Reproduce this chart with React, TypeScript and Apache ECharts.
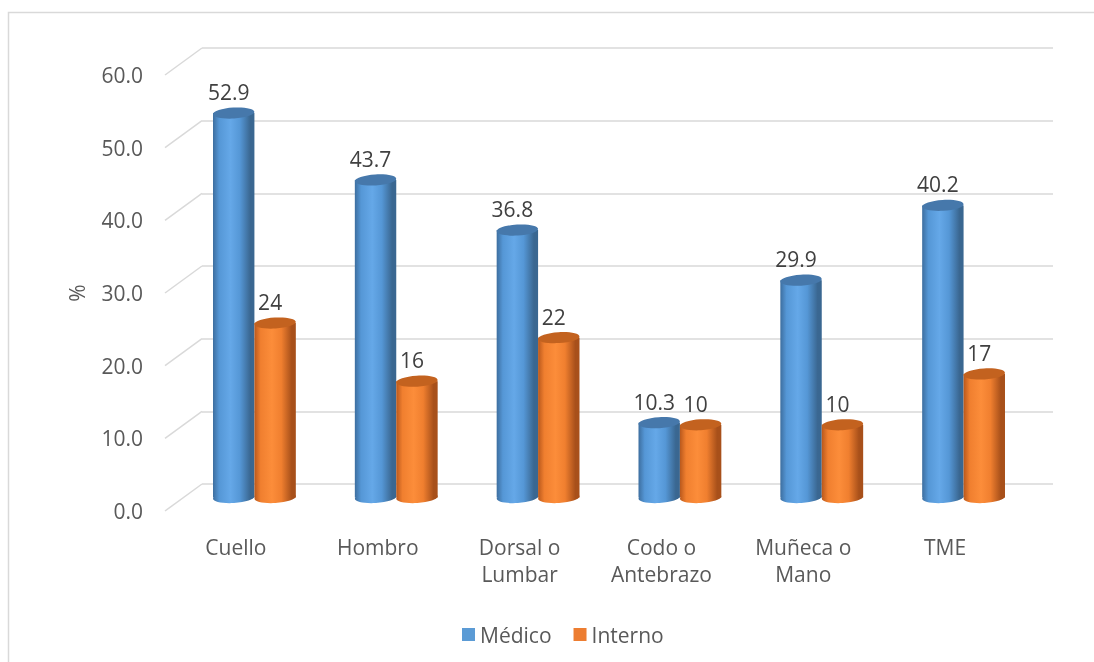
import React, { useEffect, useRef } from "react";
import * as echarts from "echarts";

// Body regions and the two groups compared for each
const categories = ["Cuello", "Hombro", "Dorsal o\nLumbar", "Codo o\nAntebrazo", "Muñeca o\nMano", "TME"];
const medico = [52.9, 43.7, 36.8, 10.3, 29.9, 40.2];
const interno = [24, 16, 22, 10, 10, 17];
const yTicks = [0, 10, 20, 30, 40, 50, 60];
const seriesNames = ["Médico", "Interno"];

// Pseudo-3D layout: back wall, middle (cylinders) and front (labels) planes
const DEPTH_DX = 37;
const DEPTH_DY = 27;
const PLOT_W = 851;
const PLOT_H = 436;
const BACK_LEFT = 202;
const BACK_TOP = 48;

const FONT = '"Open Sans", "Liberation Sans", sans-serif';
const TEXT = "#595959";
const FS = 21;

type Palette = { edge: string; mid: string; light: string; dark: string; top: string };
const bluePal: Palette = { edge: "#3d6e9f", mid: "#5597d6", light: "#65a8e8", dark: "#3a6791", top: "#4678ab" };
const orangePal: Palette = { edge: "#b9581c", mid: "#f07f2f", light: "#fc8d3a", dark: "#a8501a", top: "#c3621f" };

function cylinder(side: number, pal: Palette) {
  return (params: any, api: any) => {
    const idx = api.value(0);
    const v = api.value(1);
    const top = api.coord([idx, v]);
    const base = api.coord([idx, 0]);
    const band = api.size([1, 0])[0];
    const w = band * 0.292;
    const cx = top[0] + (side * w) / 2;
    const rx = w / 2;
    const ry = 5.5;
    const tilt = 0.06;
    const body = new echarts.graphic.LinearGradient(0, 0, 1, 0, [
      { offset: 0, color: pal.edge },
      { offset: 0.15, color: pal.mid },
      { offset: 0.42, color: pal.light },
      { offset: 0.65, color: pal.mid },
      { offset: 0.9, color: pal.dark },
      { offset: 1, color: pal.dark },
    ]);
    return {
      type: "group",
      children: [
        {
          type: "ellipse",
          x: cx,
          y: base[1],
          rotation: tilt,
          shape: { cx: 0, cy: 0, rx, ry },
          style: { fill: body },
        },
        {
          type: "rect",
          shape: { x: cx - rx, y: top[1], width: w, height: base[1] - top[1] },
          style: { fill: body },
        },
        {
          type: "ellipse",
          x: cx,
          y: top[1],
          rotation: tilt,
          shape: { cx: 0, cy: 0, rx, ry },
          style: { fill: pal.top },
        },
        {
          type: "text",
          x: cx - 5,
          y: top[1] - 21,
          style: {
            text: String(v),
            fill: "#404040",
            fontSize: FS,
            fontFamily: FONT,
            align: "center",
            verticalAlign: "middle",
          },
        },
      ],
    };
  };
}

export default function App() {
  const ref = useRef<HTMLDivElement>(null);

  useEffect(() => {
    if (!ref.current) return;
    const chart = echarts.init(ref.current, undefined, { renderer: "svg" });

    const valueAxis = (gridIndex: number, extra: any = {}) => ({
      type: "value",
      gridIndex,
      min: 0,
      max: 60,
      interval: 10,
      axisLine: { show: false },
      axisTick: { show: false },
      axisLabel: { show: false },
      splitLine: { show: false },
      ...extra,
    });
    const catAxis = (gridIndex: number, extra: any = {}) => ({
      type: "category",
      gridIndex,
      data: categories,
      show: false,
      ...extra,
    });

    chart.setOption({
      animation: false,
      color: ["#5B9BD5", "#ED7D31"],
      textStyle: { fontFamily: FONT },
      graphic: [
        {
          type: "rect",
          shape: { x: 8.5, y: 12.5, width: 1100, height: 700 },
          style: { fill: "none", stroke: "#d9d9d9", lineWidth: 1.5 },
          silent: true,
        },
      ],
      legend: {
        data: seriesNames,
        left: 457,
        top: 619,
        icon: "rect",
        itemWidth: 13,
        itemHeight: 13,
        itemGap: 22,
        textStyle: { fontSize: FS, color: TEXT, fontFamily: FONT },
      },
      grid: [
        { left: BACK_LEFT, top: BACK_TOP, width: PLOT_W, height: PLOT_H },
        { left: BACK_LEFT - DEPTH_DX / 2, top: BACK_TOP + DEPTH_DY / 2, width: PLOT_W, height: PLOT_H },
        { left: BACK_LEFT - DEPTH_DX, top: BACK_TOP + DEPTH_DY, width: PLOT_W, height: PLOT_H },
      ],
      xAxis: [
        catAxis(0),
        catAxis(1),
        catAxis(2, {
          show: true,
          axisLine: { show: false },
          axisTick: { show: false },
          axisLabel: { fontSize: FS, color: TEXT, fontFamily: FONT, margin: 22, lineHeight: 27 },
        }),
      ],
      yAxis: [
        valueAxis(0, { splitLine: { show: true, lineStyle: { color: "#d9d9d9", width: 1.5 } } }),
        valueAxis(1),
        valueAxis(2, {
          axisLabel: {
            show: true,
            fontSize: FS,
            color: TEXT,
            fontFamily: FONT,
            margin: 22,
            formatter: (v: number) => v.toFixed(1),
          },
          name: "%",
          nameLocation: "middle",
          nameRotate: 90,
          nameGap: 78,
          nameTextStyle: { fontSize: FS, color: TEXT, fontFamily: FONT },
        }),
      ],
      series: [
        {
          type: "custom",
          name: "floor-wall",
          xAxisIndex: 0,
          yAxisIndex: 0,
          silent: true,
          data: yTicks.map((t) => [0, t]),
          renderItem: (params: any, api: any) => {
            const p = api.coord([0, api.value(1)]);
            const x0 = params.coordSys.x;
            return {
              type: "line",
              shape: { x1: x0, y1: p[1], x2: x0 - DEPTH_DX, y2: p[1] + DEPTH_DY },
              style: { stroke: "#d9d9d9", lineWidth: 1.5 },
            };
          },
        },
        {
          type: "custom",
          name: seriesNames[0],
          xAxisIndex: 1,
          yAxisIndex: 1,
          itemStyle: { color: "#5B9BD5" },
          data: medico.map((v, i) => [i, v]),
          encode: { x: 0, y: 1 },
          renderItem: cylinder(-1, bluePal),
          z: 3,
        },
        {
          type: "custom",
          name: seriesNames[1],
          xAxisIndex: 1,
          yAxisIndex: 1,
          itemStyle: { color: "#ED7D31" },
          data: interno.map((v, i) => [i, v]),
          encode: { x: 0, y: 1 },
          renderItem: cylinder(1, orangePal),
          z: 4,
        },
      ],
    });

    return () => chart.dispose();
  }, []);

  return <div ref={ref} style={{ position: "fixed", left: 0, top: 0, width: 1094, height: 662 }} />;
}
